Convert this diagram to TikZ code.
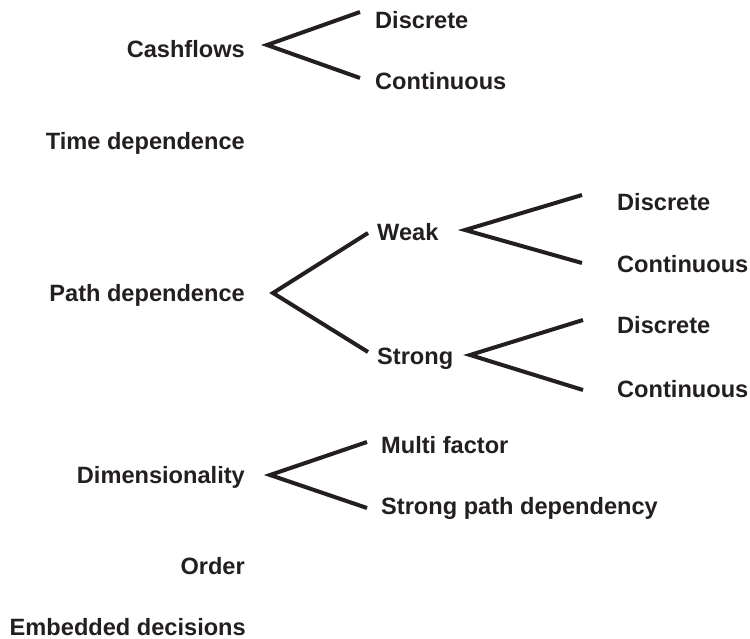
\documentclass[tikz,border=0pt]{standalone}
\usepackage{fontspec}
\setmainfont{Liberation Sans}
\definecolor{ink}{HTML}{231F20}
\begin{document}
\begin{tikzpicture}[x=1pt,y=-1pt,
  lbl/.style={inner sep=0pt,text height=17pt,text depth=0pt,text=ink,
    font=\fontsize{23.6}{28}\selectfont\bfseries},
  lft/.style={lbl,anchor=west},
  rgt/.style={lbl,anchor=east},
  fork/.style={draw=ink,line width=4pt,line join=miter,line cap=butt}]
\useasboundingbox (0,0) rectangle (750,639);
% labels
\node[rgt] (cash) at (245,49) {Cashflows};
\node[lft] (cd) at (375,20) {Discrete};
\node[lft] (cc) at (375,81) {Continuous};
\node[rgt] (time) at (245,141) {Time dependence};
\node[rgt] (path) at (245,293) {Path dependence};
\node[lft] (weak) at (377,232) {Weak};
\node[lft] (strong) at (377,356) {Strong};
\node[lft] (wd) at (617,202) {Discrete};
\node[lft] (wc) at (617,264) {Continuous};
\node[lft] (sd) at (617,325) {Discrete};
\node[lft] (sc) at (617,389) {Continuous};
\node[rgt] (dim) at (245,475) {Dimensionality};
\node[lft] (mf) at (381,445) {Multi factor};
\node[lft] (spd) at (381,506) {Strong path dependency};
\node[rgt] (order) at (245,566) {Order};
\node[rgt] (emb) at (246,627) {Embedded decisions};
% fork points
\coordinate (cashA) at (267,45);
\coordinate (cashU) at (360,12);
\coordinate (cashL) at (360,78);
\coordinate (pathA) at (273,293);
\coordinate (pathU) at (368,233);
\coordinate (pathL) at (368,352);
\coordinate (weakA) at (465,230);
\coordinate (weakU) at (582,195);
\coordinate (weakL) at (582,263);
\coordinate (strA) at (470,355);
\coordinate (strU) at (583,320);
\coordinate (strL) at (583,390);
\coordinate (dimA) at (270,475);
\coordinate (dimU) at (367,442);
\coordinate (dimL) at (367,508);
% forks
\draw[fork] (cashU) -- (cashA) -- (cashL);
\draw[fork] (pathU) -- (pathA) -- (pathL);
\draw[fork] (weakU) -- (weakA) -- (weakL);
\draw[fork] (strU) -- (strA) -- (strL);
\draw[fork] (dimU) -- (dimA) -- (dimL);
\end{tikzpicture}
\end{document}
